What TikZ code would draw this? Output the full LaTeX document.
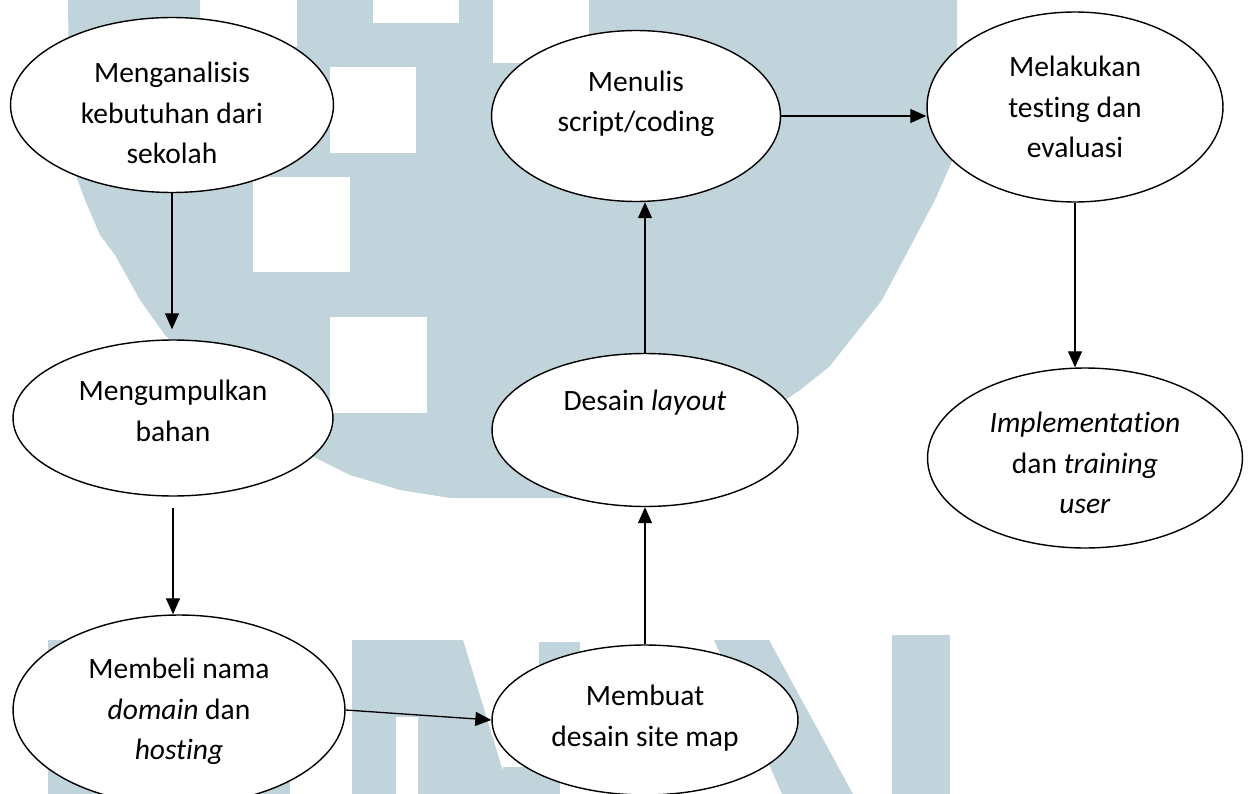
\documentclass[tikz,border=0pt]{standalone}
\usepackage{fontspec}
\setmainfont{Carlito}[Ligatures={NoCommon,NoRare}]
\usetikzlibrary{shapes.geometric,arrows.meta}
\definecolor{wmblue}{RGB}{194,212,219}

\begin{document}
\begin{tikzpicture}[x=0.02cm, y=-0.02cm,
    stage/.style={ellipse, draw, fill=white, line width=0.8pt, inner sep=0pt},
    stagetext/.style={align=center, inner sep=0pt, font=\fontsize{16.8}{23}\selectfont},
    flow/.style={-{Triangle[length=0.32cm,width=0.28cm]}, line width=0.75pt}]
        \useasboundingbox (0,0) rectangle (1251,794);

        % Watermark
        \fill[wmblue] (68,0) -- (70,160) -- (85,200) -- (100,235) -- (115,255) -- (140,300)
            -- (165,335) -- (230,400) -- (300,450) -- (350,475) -- (400,490) -- (450,498)
            -- (640,498) -- (800,390) -- (829,367) -- (882,300) -- (935,200) -- (957,150)
            -- (957,0) -- cycle;
        \foreach \xa/\ya/\xb/\yb in {200/0/297/47, 373/0/459/23, 493/0/589/63,
            330/67/416/153, 253/177/350/272, 330/317/427/413} {
            \fill[white] (\xa,\ya) rectangle (\xb,\yb);
        }
        \foreach \xa/\ya/\xb/\yb in {48/640/92/794, 245/640/290/794, 48/770/290/794,
            352/640/396/794, 352/640/445/717, 503/767/560/794, 539/642/580/700, 892/635/950/794} {
            \fill[wmblue] (\xa,\ya) rectangle (\xb,\yb);
        }
        \fill[wmblue] (418,717) -- (418,640) -- (463,640) -- (510,794) -- (418,794) -- cycle;
        \fill[wmblue] (714,640) -- (769,640) -- (853,794) -- (782,794) -- cycle;

        % Steps
        \node[stage, minimum width=6.46cm, minimum height=3.5cm,
            label={[stagetext, yshift=-0.16cm]center:Menganalisis\\kebutuhan dari\\sekolah}]
            (analisis) at (172,105) {};
        \node[stage, minimum width=6.4cm, minimum height=3.12cm,
            label={[stagetext, yshift=0.14cm]center:Mengumpulkan\\bahan}]
            (bahan) at (173,418) {};
        \node[stage, minimum width=6.64cm, minimum height=3.8cm,
            label={[stagetext, yshift=-0.03cm]center:Membeli nama\\\textit{domain} dan\\\textit{hosting}}]
            (domain) at (179,710) {};
        \node[stage, minimum width=6.12cm, minimum height=3cm,
            label={[stagetext, yshift=0.04cm]center:Membuat\\desain site map}]
            (sitemap) at (645,720) {};
        \node[stage, minimum width=6.12cm, minimum height=3.06cm,
            label={[stagetext, yshift=0.54cm]center:Desain \textit{layout}}]
            (layout) at (645,430) {};
        \node[stage, minimum width=5.78cm, minimum height=3.42cm,
            label={[stagetext, yshift=0.24cm]center:Menulis\\script/coding}]
            (coding) at (636,116) {};
        \node[stage, minimum width=5.92cm, minimum height=3.8cm,
            label={[stagetext]center:Melakukan\\testing dan\\evaluasi}]
            (testing) at (1075,107) {};
        \node[stage, minimum width=6.3cm, minimum height=3.6cm,
            label={[stagetext, yshift=-0.1cm]center:\textit{Implementation}\\dan \textit{training}\\\textit{user}}]
            (training) at (1085,458) {};

        % Arrows
        \draw[flow, shorten >=0.2cm] (analisis.south) -- (analisis.south |- bahan.north);
        \draw[flow, shorten <=0.22cm] (bahan.south) -- (bahan.south |- domain.north);
        \draw[flow] (domain.east) -- (sitemap.west);
        \draw[flow] (sitemap.north) -- (layout.south);
        \draw[flow] (layout.north) -- (layout.north |- coding.south);
        \draw[flow] (coding.east) -- (coding.east -| testing.west);
        \draw[flow] (testing.south) -- (testing.south |- training.north);
    \end{tikzpicture}
\end{document}
